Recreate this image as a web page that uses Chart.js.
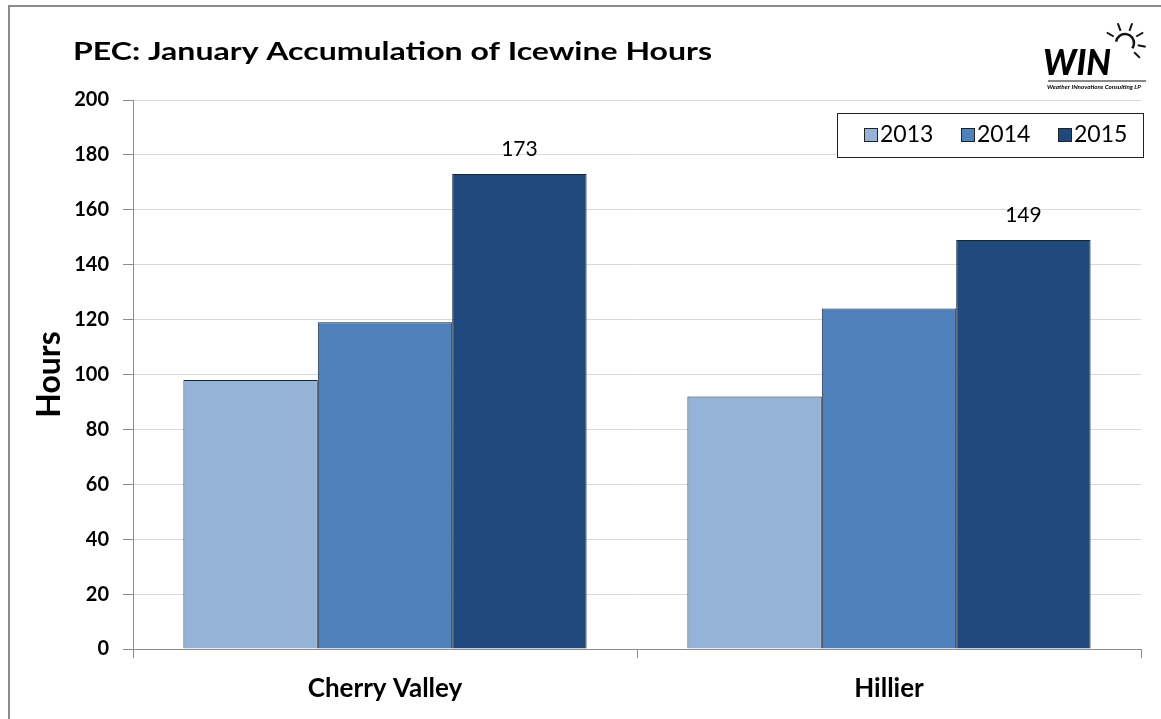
<!DOCTYPE html>
<html>
<head>
<meta charset="utf-8">
<script src="https://cdn.jsdelivr.net/npm/chart.js@4"></script>
<style>
  html, body { margin: 0; padding: 0; background: #fff; }
  #wrap { width: 1161px; height: 719px; position: relative; }
</style>
</head>
<body>
<div id="wrap"><canvas id="iceChart" width="1161" height="719"></canvas></div>
<script>
const sites = ['Cherry Valley', 'Hillier'];
const years = ['2013', '2014', '2015'];
const hours2013 = [98, 92];
const hours2014 = [119, 124];
const hours2015 = [173, 149];
const yearColors = ['#95b3d7', '#4f81bd', '#1f497d'];
const yTicks = [0, 20, 40, 60, 80, 100, 120, 140, 160, 180, 200];

const FONT = 'Lato, "Open Sans", sans-serif';

// draws text squeezed/stretched to a given width (the source image is wide)
function fitText(c, txt, x, y, w) {
  const m = c.measureText(txt).width;
  c.save();
  c.translate(x, y);
  c.scale(w / m, 1);
  c.fillText(txt, 0, 0);
  c.restore();
}

// frame, title, logo, legend box and value labels
const decor = {
  id: 'decor',
  beforeDraw(chart) {
    const c = chart.ctx;
    c.save();
    c.fillStyle = '#fff';
    c.fillRect(0, 0, chart.width, chart.height);
    c.strokeStyle = '#8c8c8c';
    c.lineWidth = 2;
    c.beginPath();
    c.moveTo(9, 730);
    c.lineTo(9, 6);
    c.lineTo(1170, 6);
    c.stroke();
    c.restore();
  },
  afterDatasetsDraw(chart) {
    const c = chart.ctx;
    c.save();
    // title
    c.fillStyle = '#000';
    c.font = 'bold 24px ' + FONT;
    c.textBaseline = 'alphabetic';
    c.textAlign = 'left';
    fitText(c, 'PEC: January Accumulation of Icewine Hours', 73, 60, 639);

    // value labels for 2015
    const meta = chart.getDatasetMeta(2);
    c.font = '21px ' + FONT;
    c.textAlign = 'center';
    c.textBaseline = 'middle';
    meta.data.forEach((bar, i) => {
      c.fillText(String(hours2015[i]), bar.x, bar.y - 25);
    });

    // legend box
    const bx = 837, by = 113, bw = 306, bh = 44;
    c.fillStyle = '#fff';
    c.fillRect(bx, by, bw, bh);
    c.strokeStyle = '#222';
    c.lineWidth = 1;
    c.strokeRect(bx + 0.5, by + 0.5, bw, bh);
    c.font = '23px ' + FONT;
    c.textAlign = 'left';
    years.forEach((y, i) => {
      const x = 864 + i * 97;
      c.fillStyle = yearColors[i];
      c.fillRect(x, 128, 13, 13);
      c.strokeStyle = '#222';
      c.strokeRect(x + 0.5, 128.5, 13, 13);
      c.fillStyle = '#000';
      c.fillText(y, x + 16, 135);
    });

    // logo
    c.fillStyle = '#000';
    c.font = 'italic 900 36px ' + FONT;
    c.textAlign = 'left';
    c.textBaseline = 'alphabetic';
    fitText(c, 'WIN', 1043, 75, 68);
    c.strokeStyle = '#111';
    c.lineWidth = 1;
    c.beginPath();
    c.moveTo(1048, 81); c.lineTo(1146, 81);
    c.stroke();
    c.font = 'italic bold 6px ' + FONT;
    fitText(c, 'Weather INnovations Consulting LP', 1047, 89, 94);
    // sun
    const sx = 1125, sy = 43;
    c.lineWidth = 2.5;
    c.beginPath();
    c.arc(sx, sy, 9, Math.PI * 1.05, Math.PI * 2.2);
    c.stroke();
    c.lineWidth = 2;
    [-150, -110, -70, -30, 10, 45].forEach(a => {
      const r = a * Math.PI / 180;
      c.beginPath();
      c.moveTo(sx + Math.cos(r) * 13, sy + Math.sin(r) * 13);
      c.lineTo(sx + Math.cos(r) * 21, sy + Math.sin(r) * 21);
      c.stroke();
    });
    c.restore();
  }
};

new Chart(document.getElementById('iceChart'), {
  type: 'bar',
  data: {
    labels: sites,
    datasets: [
      { label: years[0], data: hours2013, backgroundColor: yearColors[0] },
      { label: years[1], data: hours2014, backgroundColor: yearColors[1] },
      { label: years[2], data: hours2015, backgroundColor: yearColors[2] }
    ].map(d => Object.assign(d, {
      borderColor: '#1b2533',
      borderWidth: 1,
      barPercentage: 1,
      categoryPercentage: 0.8
    }))
  },
  options: {
    responsive: false,
    animation: false,
    devicePixelRatio: 1,
    layout: { padding: { left: 20, right: 20, top: 100, bottom: 0 } },
    plugins: {
      legend: { display: false },
      tooltip: { enabled: false },
      title: { display: false }
    },
    scales: {
      x: {
        afterFit: scale => { scale.height = 70; },
        grid: {
          offset: true,
          drawOnChartArea: false,
          tickLength: 9,
          color: '#8c8c8c',
          tickColor: '#8c8c8c'
        },
        border: { color: '#8c8c8c' },
        ticks: {
          color: '#000',
          padding: 15,
          font: { family: FONT, size: 26, weight: 'bold' }
        }
      },
      y: {
        min: 0,
        max: 200,
        afterBuildTicks: scale => { scale.ticks = yTicks.map(v => ({ value: v })); },
        afterFit: scale => { scale.width = 113; },
        grid: {
          color: '#d9d9d9',
          tickColor: '#8c8c8c',
          tickLength: 10
        },
        border: { color: '#8c8c8c' },
        ticks: {
          color: '#000',
          padding: 14,
          font: { family: FONT, size: 20, weight: 'bold' }
        },
        title: {
          display: true,
          text: 'Hours',
          color: '#000',
          padding: { top: 10, bottom: 0 },
          font: { family: FONT, size: 32, weight: 'bold' }
        }
      }
    }
  },
  plugins: [decor]
});
</script>
</body>
</html>
